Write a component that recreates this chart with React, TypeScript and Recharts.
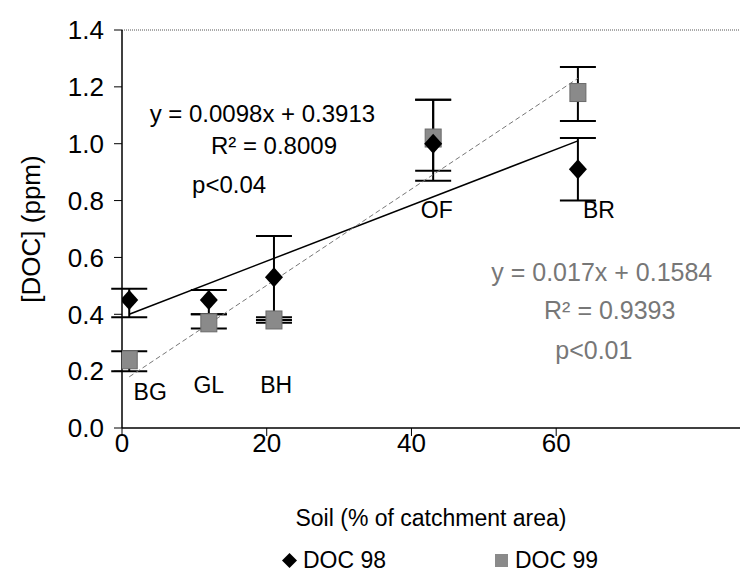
import React from "react";
import { ComposedChart, ErrorBar, ReferenceLine, Scatter, XAxis, YAxis } from "recharts";

const doc98 = [
  { x: 1, y: 0.45, err: [0.06, 0.04] },
  { x: 12, y: 0.45, err: [0.05, 0.035] },
  { x: 21, y: 0.53, err: [0.15, 0.145] },
  { x: 43, y: 1.0, err: [0.13, 0.155] },
  { x: 63, y: 0.91, err: [0.11, 0.11] },
];

const doc99 = [
  { x: 1, y: 0.24, err: [0.04, 0.03] },
  { x: 12, y: 0.37, err: [0.02, 0.03] },
  { x: 21, y: 0.38, err: [0.01, 0.01] },
  { x: 43, y: 1.02, err: [0.115, 0.135] },
  { x: 63, y: 1.18, err: [0.1, 0.09] },
];

const trend98 = [
  { x: 1, y: 0.4 },
  { x: 63, y: 1.01 },
];

const trend99 = [
  { x: 1, y: 0.18 },
  { x: 63, y: 1.23 },
];

const siteLabels = [
  { x: 3.9, y: 0.127, text: "BG" },
  { x: 12.0, y: 0.151, text: "GL" },
  { x: 21.3, y: 0.151, text: "BH" },
  { x: 43.5, y: 0.767, text: "OF" },
  { x: 65.9, y: 0.767, text: "BR" },
];

const notes98 = [
  { x: 19.4, y: 1.108, text: "y = 0.0098x + 0.3913" },
  { x: 21.0, y: 0.995, text: "R² = 0.8009" },
  { x: 14.8, y: 0.855, text: "p<0.04" },
];

const notes99 = [
  { x: 66.3, y: 0.549, text: "y = 0.017x + 0.1584" },
  { x: 67.4, y: 0.415, text: "R² = 0.9393" },
  { x: 65.2, y: 0.274, text: "p<0.01" },
];

const xTicks = [0, 20, 40, 60];
const yTicks = [0, 0.2, 0.4, 0.6, 0.8, 1.0, 1.2, 1.4];

const FONT = "'Liberation Sans', Arial, sans-serif";

const makeText = (fill: string, size: number) => (props: any) => (
  <text
    x={props.cx}
    y={props.cy}
    textAnchor="middle"
    dominantBaseline="central"
    fontFamily={FONT}
    fontSize={size}
    fill={fill}
  >
    {props.payload.text}
  </text>
);

const Diamond = (props: any) => {
  const { cx, cy } = props;
  return (
    <polygon
      points={`${cx},${cy - 10} ${cx + 9},${cy} ${cx},${cy + 10} ${cx - 9},${cy}`}
      fill="#000"
    />
  );
};

const Square = (props: any) => {
  const { cx, cy } = props;
  return (
    <rect x={cx - 8} y={cy - 9} width={16} height={18} fill="#8a8a8a" stroke="#6a6a6a" />
  );
};

export default function App() {
  return (
    <div style={{ position: "absolute", left: 0, top: 0, width: 740, height: 575, background: "#fff" }}>
      <ComposedChart
        width={740}
        height={575}
        margin={{ top: 30, right: 0, left: 62, bottom: 107 }}
      >
        <XAxis
          type="number"
          dataKey="x"
          domain={[0, 85.4]}
          ticks={xTicks}
          allowDataOverflow
          axisLine={{ stroke: "#000", strokeWidth: 1.5 }}
          tickLine={{ stroke: "#000" }}
          tickSize={8}
          tick={{ fontFamily: FONT, fontSize: 26, fill: "#000", dy: -4 }}
          label={{
            value: "Soil (% of catchment area)",
            position: "insideBottom",
            offset: -58,
            style: { fontFamily: FONT, fontSize: 23, fill: "#000" },
          }}
          height={40}
        />
        <YAxis
          type="number"
          dataKey="y"
          domain={[0, 1.4]}
          ticks={yTicks}
          width={60}
          tickFormatter={(v: number) => v.toFixed(1)}
          axisLine={{ stroke: "#000", strokeWidth: 1.5 }}
          tickLine={{ stroke: "#000" }}
          tickSize={8}
          tick={{ fontFamily: FONT, fontSize: 26, fill: "#000", dx: -8 }}
          label={{
            value: "[DOC] (ppm)",
            angle: -90,
            position: "insideLeft",
            offset: -31,
            style: { fontFamily: FONT, fontSize: 26, fill: "#000", textAnchor: "middle" },
          }}
        />
        <ReferenceLine y={1.4} stroke="#555" strokeDasharray="1 1" />
        <Scatter
          name="trend98"
          data={trend98}
          line={{ stroke: "#000", strokeWidth: 1.5 }}
          shape={() => null}
          isAnimationActive={false}
        />
        <Scatter
          name="trend99"
          data={trend99}
          line={{ stroke: "#777", strokeWidth: 1, strokeDasharray: "5 3" }}
          shape={() => null}
          isAnimationActive={false}
        />
        <Scatter name="DOC 99" data={doc99} shape={<Square />} isAnimationActive={false}>
          <ErrorBar dataKey="err" direction="y" width={18} stroke="#000" strokeWidth={2} />
        </Scatter>
        <Scatter name="DOC 98" data={doc98} shape={<Diamond />} isAnimationActive={false}>
          <ErrorBar dataKey="err" direction="y" width={18} stroke="#000" strokeWidth={2} />
        </Scatter>
        <Scatter name="sites" data={siteLabels} shape={makeText("#000", 23)} isAnimationActive={false} />
        <Scatter name="notes98" data={notes98} shape={makeText("#000", 24)} isAnimationActive={false} />
        <Scatter name="notes99" data={notes99} shape={makeText("#777", 25)} isAnimationActive={false} />
      </ComposedChart>
      <div
        style={{
          position: "absolute",
          top: 547,
          left: 0,
          width: 740,
          height: 26,
          fontFamily: FONT,
          fontSize: 23,
          lineHeight: "26px",
          color: "#000",
        }}
      >
        <svg width={15} height={15} style={{ position: "absolute", left: 282, top: 6 }}>
          <polygon points="7.5,0 15,7.5 7.5,15 0,7.5" fill="#000" />
        </svg>
        <span style={{ position: "absolute", left: 303, top: 0 }}>DOC 98</span>
        <svg width={13} height={13} style={{ position: "absolute", left: 495, top: 7 }}>
          <rect x={0} y={0} width={13} height={13} fill="#8a8a8a" />
        </svg>
        <span style={{ position: "absolute", left: 515, top: 0 }}>DOC 99</span>
      </div>
    </div>
  );
}
